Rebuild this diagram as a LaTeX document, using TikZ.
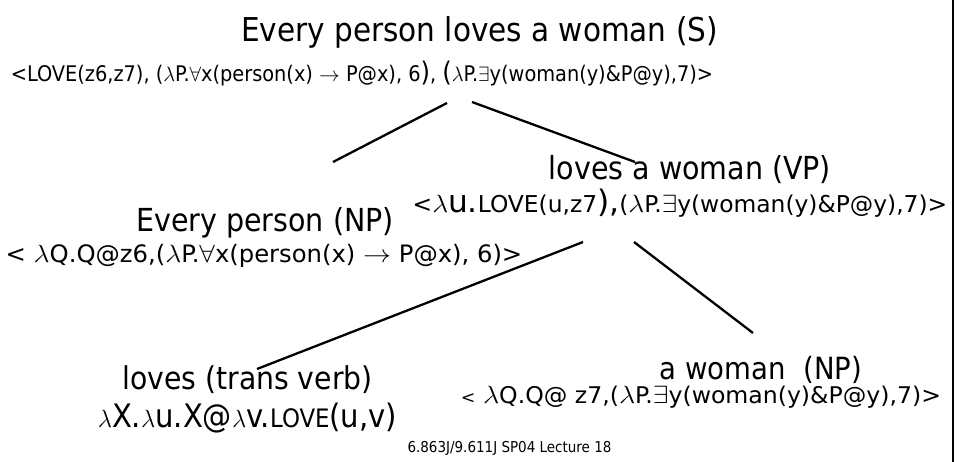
\documentclass[tikz,border=0pt]{standalone}
\usepackage{graphicx}
\usepackage{fontspec}
\setmainfont{DejaVu Sans Condensed}
\newcommand\Lmb{$\lambda$}
\newcommand\Fa{$\forall$}
\newcommand\Ex{$\exists$}
\newcommand\Ar{$\rightarrow$}
\newcommand\fs[1]{\fontsize{#1}{#1}\selectfont}
\begin{document}
\begin{tikzpicture}[x=1pt,y=-1pt,
  lbl/.style={inner sep=0pt,anchor=base},
  edge/.style={line width=2.3pt}]
\useasboundingbox (0,0) rectangle (959,462);
\node[lbl] (S) at (479.5,42) {\fs{32.8}Every person loves a woman (S)};
\node[lbl] (Sf) at (362,82) {\fs{21.5}<LOVE(z6,z7), (\Lmb P.\Fa x(person(x) \Ar{} P@x), 6{\fs{27})}, {\fs{27}(}\Lmb P.\Ex y(woman(y)\&P@y),7)>};
\node[lbl] (VP) at (690,180) {\fs{31.7}loves a woman (VP)};
\node[lbl] (VPf) at (680,213) {\scalebox{1.12}[1]{\fs{23.2}<\Lmb{\fs{31}u.}LOVE(u,z7{\fs{31}),}(\Lmb P.\Ex y(woman(y)\&P@y),7)>}};
\node[lbl] (NP) at (265,232) {\fs{31.7}Every person (NP)};
\node[lbl] (NPf) at (264,263) {\scalebox{1.125}[1]{\fs{24}< \Lmb Q.Q@z6,(\Lmb P.\Fa x(person(x) \Ar{} P@x), 6)>}};
\node[lbl] (V) at (247.5,390) {\fs{31.4}loves (trans verb)};
\node[lbl] (Vf) at (247.5,428) {\fs{32.3}\Lmb X.\Lmb u.X@\Lmb v.{\fs{25.4}LOVE}(u,v)};
\node[lbl] (NP2) at (761,379.5) {\fs{30.6}a woman\ \ (NP)};
\node[lbl] (NP2f) at (701,403) {\scalebox{1.14}[1]{\fs{23}{\fs{17}<} \Lmb Q.Q@ z7,(\Lmb P.\Ex y(woman(y)\&P@y),7)>}};
\node[lbl] (foot) at (509.5,452) {\fs{15}6.863J/9.611J SP04 Lecture 18};
\coordinate (a1) at (447,103);
\coordinate (a2) at (333,162);
\coordinate (b1) at (472,102);
\coordinate (b2) at (635,162);
\coordinate (c1) at (583,242);
\coordinate (c2) at (257,369);
\coordinate (d1) at (634,242);
\coordinate (d2) at (753,333);
\coordinate (r1) at (953,0);
\coordinate (r2) at (953,462);
\draw[edge] (a1) -- (a2);
\draw[edge] (b1) -- (b2);
\draw[edge] (c1) -- (c2);
\draw[edge] (d1) -- (d2);
\draw[line width=2.5pt] (r1) -- (r2);
\end{tikzpicture}
\end{document}
